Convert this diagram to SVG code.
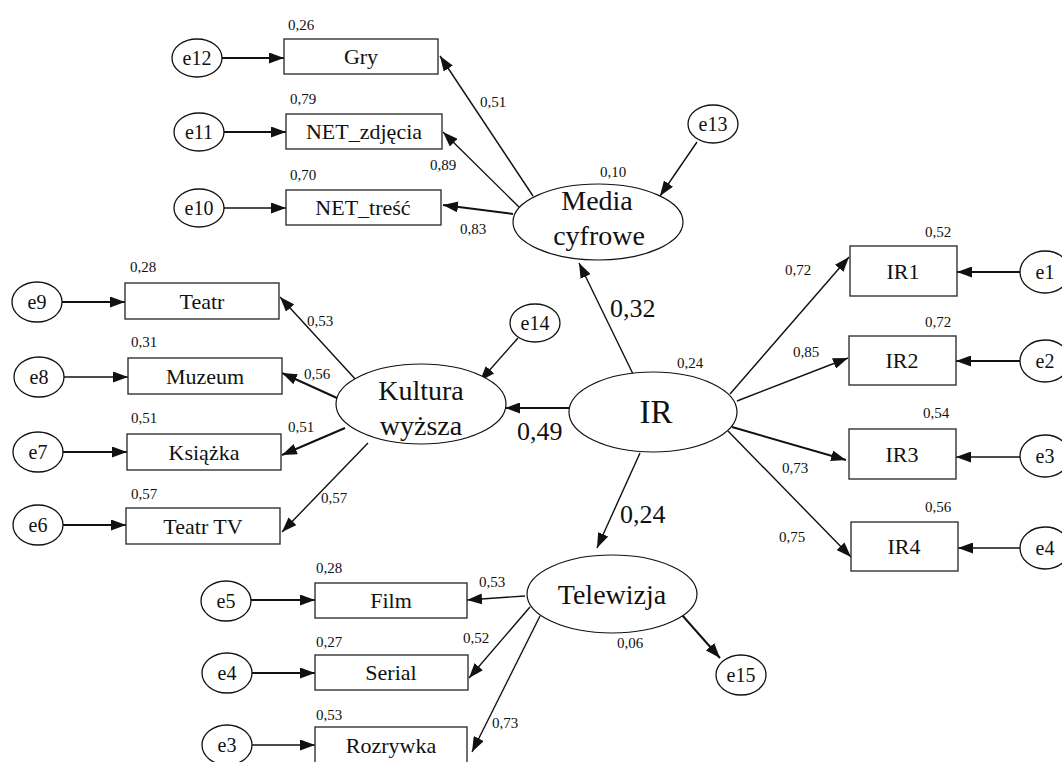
<svg xmlns="http://www.w3.org/2000/svg" width="1062" height="762" viewBox="0 0 1062 762" font-family="Liberation Serif">
<defs>
<style>
.box{fill:#fff;stroke:#333;stroke-width:1.4}
.circ{fill:#fff;stroke:#111;stroke-width:1.3}
.lat{fill:#fff;stroke:#111;stroke-width:1.2}
.tl{font-size:28px;text-anchor:middle;fill:#111}
.tir{font-size:33px;text-anchor:middle;fill:#111}
.tb{font-size:22px;text-anchor:middle;fill:#111}
.te{font-size:20px;text-anchor:middle;fill:#111}
.num{font-size:15px;fill:#111}
.big{font-size:26px;fill:#111}
.c{stroke:#111;stroke-width:1.4;fill:none;marker-end:url(#ah)}
.ct{stroke:#111;stroke-width:2;fill:none;marker-end:url(#ah)}
</style>
<marker id="ah" markerUnits="userSpaceOnUse" markerWidth="15" markerHeight="11" refX="15" refY="5.5" orient="auto">
<path d="M0,0 L15,5.5 L0,11 z" fill="#111"/>
</marker>
</defs>
<rect width="1062" height="762" fill="#fff"/>

<g id="connectors">
<line class="c" x1="533" y1="196" x2="440" y2="56"/>
<line class="c" x1="519" y1="207" x2="443" y2="132"/>
<line class="ct" x1="513" y1="214" x2="443" y2="205"/>
<line class="c" x1="697" y1="142" x2="660" y2="196"/>
<line class="ct" x1="222" y1="58" x2="284" y2="58"/>
<line class="ct" x1="224" y1="132" x2="286" y2="132"/>
<line class="c" x1="224" y1="208" x2="286" y2="208"/>
<line class="c" x1="357" y1="381" x2="280" y2="297"/>
<line class="ct" x1="337" y1="398" x2="282" y2="373"/>
<line class="ct" x1="345" y1="428" x2="282" y2="455"/>
<line class="c" x1="368" y1="443" x2="282" y2="532"/>
<line class="c" x1="518" y1="338" x2="480" y2="381"/>
<line class="ct" x1="62" y1="302" x2="125" y2="302"/>
<line class="c" x1="64" y1="377" x2="128" y2="377"/>
<line class="ct" x1="63" y1="452" x2="127" y2="452"/>
<line class="ct" x1="63" y1="525" x2="126" y2="525"/>
<line class="c" x1="633" y1="374" x2="579" y2="263"/>
<line class="ct" x1="569" y1="408" x2="505" y2="408"/>
<line class="c" x1="640" y1="453" x2="597" y2="548"/>
<line class="c" x1="730" y1="394" x2="849" y2="257"/>
<line class="c" x1="737" y1="401" x2="848" y2="358"/>
<line class="ct" x1="732" y1="427" x2="846" y2="460"/>
<line class="c" x1="728" y1="431" x2="851" y2="557"/>
<line class="ct" x1="1020" y1="272" x2="957" y2="272"/>
<line class="ct" x1="1020" y1="361" x2="956" y2="361"/>
<line class="c" x1="1020" y1="457" x2="956" y2="457"/>
<line class="c" x1="1020" y1="548" x2="958" y2="548"/>
<line class="c" x1="525" y1="596" x2="467" y2="600"/>
<line class="c" x1="530" y1="607" x2="469" y2="678"/>
<line class="c" x1="540" y1="616" x2="472" y2="752"/>
<line class="ct" x1="682" y1="615" x2="720" y2="658"/>
<line class="ct" x1="251" y1="600" x2="315" y2="600"/>
<line class="ct" x1="252" y1="673" x2="315" y2="673"/>
<line class="c" x1="252" y1="745" x2="315" y2="745"/>
</g>

<g id="labels">
<text class="num" style="font-family:'Liberation Serif'" x="480" y="107">0,51</text>
<text class="num" style="font-family:'Liberation Serif'" x="430" y="170">0,89</text>
<text class="num" style="font-family:'Liberation Serif'" x="460" y="234">0,83</text>
<text class="num" style="font-family:'Liberation Serif'" x="600" y="177">0,10</text>
<text class="num" style="font-family:'Liberation Serif'" x="307" y="326">0,53</text>
<text class="num" style="font-family:'Liberation Serif'" x="304" y="379">0,56</text>
<text class="num" style="font-family:'Liberation Serif'" x="288" y="432">0,51</text>
<text class="num" style="font-family:'Liberation Serif'" x="321" y="503">0,57</text>
<text class="big" style="font-family:'Liberation Serif'" x="610" y="317">0,32</text>
<text class="big" style="font-family:'Liberation Serif'" x="517" y="440">0,49</text>
<text class="big" style="font-family:'Liberation Serif'" x="620" y="523">0,24</text>
<text class="num" style="font-family:'Liberation Serif'" x="677" y="368">0,24</text>
<text class="num" style="font-family:'Liberation Serif'" x="785" y="275">0,72</text>
<text class="num" style="font-family:'Liberation Serif'" x="793" y="357">0,85</text>
<text class="num" style="font-family:'Liberation Serif'" x="782" y="473">0,73</text>
<text class="num" style="font-family:'Liberation Serif'" x="779" y="542">0,75</text>
<text class="num" style="font-family:'Liberation Serif'" x="479" y="587">0,53</text>
<text class="num" style="font-family:'Liberation Serif'" x="463" y="643">0,52</text>
<text class="num" style="font-family:'Liberation Serif'" x="492" y="728">0,73</text>
<text class="num" style="font-family:'Liberation Serif'" x="617" y="648">0,06</text>
</g>

<g id="media">
<ellipse class="lat" cx="598" cy="222" rx="85" ry="38"/>
<text class="tl" style="font-family:'Liberation Serif'" x="597" y="210">Media</text>
<text class="tl" style="font-family:'Liberation Serif'" x="599" y="245">cyfrowe</text>
</g>
<g id="kultura">
<ellipse class="lat" cx="421" cy="404" rx="85" ry="40"/>
<text class="tl" style="font-family:'Liberation Serif'" x="421" y="400">Kultura</text>
<text class="tl" style="font-family:'Liberation Serif'" x="421" y="435">wyższa</text>
</g>
<g id="ir">
<ellipse class="lat" cx="653" cy="412" rx="84" ry="40"/>
<text class="tir" style="font-family:'Liberation Serif'" x="656" y="423">IR</text>
</g>
<g id="telewizja">
<ellipse class="lat" cx="612" cy="594" rx="85" ry="39"/>
<text class="tl" style="font-family:'Liberation Serif'" x="612" y="604">Telewizja</text>
</g>

<g id="gry"><rect class="box" x="284" y="39" width="154" height="35"/><text class="tb" style="font-family:'Liberation Serif'" x="361" y="64">Gry</text><text class="num" style="font-family:'Liberation Serif'" x="288" y="30">0,26</text></g>
<g id="net_zdjecia"><rect class="box" x="286" y="114" width="156" height="35"/><text class="tb" style="font-family:'Liberation Serif'" x="364" y="139">NET_zdjęcia</text><text class="num" style="font-family:'Liberation Serif'" x="290" y="104">0,79</text></g>
<g id="net_tresc"><rect class="box" x="286" y="190" width="155" height="35"/><text class="tb" style="font-family:'Liberation Serif'" x="363" y="215">NET_treść</text><text class="num" style="font-family:'Liberation Serif'" x="290" y="180">0,70</text></g>

<g id="teatr"><rect class="box" x="125" y="283" width="154" height="36"/><text class="tb" style="font-family:'Liberation Serif'" x="202" y="309">Teatr</text><text class="num" style="font-family:'Liberation Serif'" x="130" y="272">0,28</text></g>
<g id="muzeum"><rect class="box" x="128" y="358" width="154" height="36"/><text class="tb" style="font-family:'Liberation Serif'" x="205" y="384">Muzeum</text><text class="num" style="font-family:'Liberation Serif'" x="131" y="347">0,31</text></g>
<g id="ksiazka"><rect class="box" x="127" y="434" width="154" height="36"/><text class="tb" style="font-family:'Liberation Serif'" x="204" y="460">Książka</text><text class="num" style="font-family:'Liberation Serif'" x="131" y="423">0,51</text></g>
<g id="teatr_tv"><rect class="box" x="126" y="508" width="154" height="36"/><text class="tb" style="font-family:'Liberation Serif'" x="203" y="534">Teatr TV</text><text class="num" style="font-family:'Liberation Serif'" x="131" y="499">0,57</text></g>

<g id="ir1"><rect class="box" x="850" y="246" width="107" height="50"/><text class="tb" style="font-family:'Liberation Serif'" x="903" y="279">IR1</text><text class="num" style="font-family:'Liberation Serif'" x="925" y="237">0,52</text></g>
<g id="ir2"><rect class="box" x="849" y="336" width="107" height="49"/><text class="tb" style="font-family:'Liberation Serif'" x="902" y="368">IR2</text><text class="num" style="font-family:'Liberation Serif'" x="925" y="327">0,72</text></g>
<g id="ir3"><rect class="box" x="849" y="429" width="107" height="50"/><text class="tb" style="font-family:'Liberation Serif'" x="902" y="462">IR3</text><text class="num" style="font-family:'Liberation Serif'" x="923" y="418">0,54</text></g>
<g id="ir4"><rect class="box" x="851" y="522" width="107" height="49"/><text class="tb" style="font-family:'Liberation Serif'" x="904" y="554">IR4</text><text class="num" style="font-family:'Liberation Serif'" x="925" y="512">0,56</text></g>

<g id="film"><rect class="box" x="315" y="583" width="152" height="35"/><text class="tb" style="font-family:'Liberation Serif'" x="391" y="608">Film</text><text class="num" style="font-family:'Liberation Serif'" x="316" y="573">0,28</text></g>
<g id="serial"><rect class="box" x="315" y="655" width="153" height="35"/><text class="tb" style="font-family:'Liberation Serif'" x="391" y="680">Serial</text><text class="num" style="font-family:'Liberation Serif'" x="316" y="647">0,27</text></g>
<g id="rozrywka"><rect class="box" x="315" y="727" width="152" height="36"/><text class="tb" style="font-family:'Liberation Serif'" x="391" y="753">Rozrywka</text><text class="num" style="font-family:'Liberation Serif'" x="316" y="720">0,53</text></g>

<g id="e12"><ellipse class="circ" cx="197" cy="58" rx="25" ry="19"/><text class="te" style="font-family:'Liberation Serif'" x="197" y="65">e12</text></g>
<g id="e11"><ellipse class="circ" cx="199" cy="132" rx="25" ry="19"/><text class="te" style="font-family:'Liberation Serif'" x="199" y="139">e11</text></g>
<g id="e10"><ellipse class="circ" cx="199" cy="208" rx="25" ry="19"/><text class="te" style="font-family:'Liberation Serif'" x="199" y="215">e10</text></g>
<g id="e13"><ellipse class="circ" cx="713" cy="124" rx="25" ry="19"/><text class="te" style="font-family:'Liberation Serif'" x="713" y="131">e13</text></g>
<g id="e14"><ellipse class="circ" cx="535" cy="323" rx="25" ry="19"/><text class="te" style="font-family:'Liberation Serif'" x="535" y="330">e14</text></g>
<g id="e9"><ellipse class="circ" cx="37" cy="302" rx="25" ry="20"/><text class="te" style="font-family:'Liberation Serif'" x="37" y="309">e9</text></g>
<g id="e8"><ellipse class="circ" cx="39" cy="377" rx="25" ry="20"/><text class="te" style="font-family:'Liberation Serif'" x="39" y="384">e8</text></g>
<g id="e7"><ellipse class="circ" cx="38" cy="452" rx="25" ry="20"/><text class="te" style="font-family:'Liberation Serif'" x="38" y="459">e7</text></g>
<g id="e6"><ellipse class="circ" cx="38" cy="525" rx="25" ry="20"/><text class="te" style="font-family:'Liberation Serif'" x="38" y="532">e6</text></g>
<g id="e1"><ellipse class="circ" cx="1045" cy="272" rx="25" ry="21"/><text class="te" style="font-family:'Liberation Serif'" x="1045" y="279">e1</text></g>
<g id="e2"><ellipse class="circ" cx="1045" cy="361" rx="25" ry="21"/><text class="te" style="font-family:'Liberation Serif'" x="1045" y="368">e2</text></g>
<g id="e3r"><ellipse class="circ" cx="1045" cy="456" rx="25" ry="21"/><text class="te" style="font-family:'Liberation Serif'" x="1045" y="463">e3</text></g>
<g id="e4r"><ellipse class="circ" cx="1045" cy="548" rx="25" ry="21"/><text class="te" style="font-family:'Liberation Serif'" x="1045" y="555">e4</text></g>
<g id="e5"><ellipse class="circ" cx="226" cy="601" rx="25" ry="20"/><text class="te" style="font-family:'Liberation Serif'" x="226" y="608">e5</text></g>
<g id="e4"><ellipse class="circ" cx="227" cy="673" rx="25" ry="20"/><text class="te" style="font-family:'Liberation Serif'" x="227" y="680">e4</text></g>
<g id="e3"><ellipse class="circ" cx="227" cy="745" rx="25" ry="20"/><text class="te" style="font-family:'Liberation Serif'" x="227" y="752">e3</text></g>
<g id="e15"><ellipse class="circ" cx="741" cy="675" rx="25" ry="20"/><text class="te" style="font-family:'Liberation Serif'" x="741" y="682">e15</text></g>
</svg>
